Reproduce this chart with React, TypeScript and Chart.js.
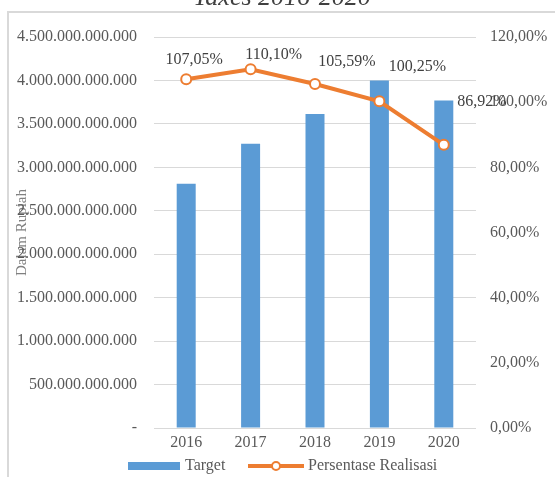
import React, { useEffect, useRef } from "react";
import { Chart, registerables } from "chart.js";

Chart.register(...registerables);

// ---- Data ----
const categories = ["2016", "2017", "2018", "2019", "2020"];
const targetValues = [2.81e12, 3.27e12, 3.615e12, 4.0e12, 3.768e12];
const realisasiPercent = [107.05, 110.1, 105.59, 100.25, 86.92];
const leftAxisMax = 4.5e12;
const leftAxisStep = 5e11;
const rightAxisMax = 120;
const rightAxisStep = 20;
const chartTitle = "Taxes 2016-2020";
const yAxisTitle = "Dalam Rupiah";
const seriesNames = ["Target", "Persentase Realisasi"];

// ---- Styles ----
const SERIF = "'Liberation Serif', 'Times New Roman', serif";
const BLUE = "#5B9BD5";
const ORANGE = "#ED7D31";
const GRID = "#D9D9D9";
const TEXT = "#595959";
const labelOffsets: [number, number][] = [
  [8, -19],
  [23, -14],
  [32, -22],
  [38, -35],
  [38, -43],
];

function formatDots(v: number): string {
  if (v === 0) return "-";
  const s = Math.round(v).toString();
  return s.replace(/\B(?=(\d{3})+(?!\d))/g, ".");
}
function formatPct(v: number): string {
  return v.toFixed(2).replace(".", ",") + "%";
}

const decorPlugin = {
  id: "decor",
  beforeDraw(chart: any) {
    const ctx = chart.ctx as CanvasRenderingContext2D;
    ctx.save();
    // frame
    ctx.strokeStyle = GRID;
    ctx.lineWidth = 2;
    ctx.beginPath();
    ctx.moveTo(8, 480);
    ctx.lineTo(8, 12);
    ctx.lineTo(560, 12);
    ctx.stroke();
    // title (partially cut off at top)
    ctx.fillStyle = "#404040";
    ctx.font = `italic 26px ${SERIF}`;
    ctx.textAlign = "center";
    ctx.textBaseline = "alphabetic";
    ctx.fillText(chartTitle, 282, 5);
    ctx.restore();
  },
  afterDatasetsDraw(chart: any) {
    const ctx = chart.ctx as CanvasRenderingContext2D;
    const meta = chart.getDatasetMeta(1);
    ctx.save();
    ctx.fillStyle = "#404040";
    ctx.font = `16px ${SERIF}`;
    ctx.textAlign = "center";
    ctx.textBaseline = "middle";
    meta.data.forEach((el: any, i: number) => {
      const [dx, dy] = labelOffsets[i] || [0, -18];
      ctx.fillText(formatPct(realisasiPercent[i]), el.x + dx, el.y + dy);
    });
    ctx.restore();
  },
  afterDraw(chart: any) {
    const ctx = chart.ctx as CanvasRenderingContext2D;
    ctx.save();
    const cy = 466;
    // Target swatch
    ctx.fillStyle = BLUE;
    ctx.fillRect(128, cy - 4, 52, 8);
    ctx.fillStyle = TEXT;
    ctx.font = `16px ${SERIF}`;
    ctx.textAlign = "left";
    ctx.textBaseline = "middle";
    ctx.fillText(seriesNames[0], 185, cy);
    // Line swatch
    ctx.strokeStyle = ORANGE;
    ctx.lineWidth = 4;
    ctx.beginPath();
    ctx.moveTo(248, cy);
    ctx.lineTo(304, cy);
    ctx.stroke();
    ctx.beginPath();
    ctx.arc(276, cy, 4, 0, Math.PI * 2);
    ctx.fillStyle = "#ffffff";
    ctx.fill();
    ctx.lineWidth = 2;
    ctx.stroke();
    ctx.fillStyle = TEXT;
    ctx.fillText(seriesNames[1], 308, cy);
    ctx.restore();
  },
};

export default function App() {
  const canvasRef = useRef<HTMLCanvasElement | null>(null);

  useEffect(() => {
    if (!canvasRef.current) return;
    const chart = new Chart(canvasRef.current, {
      type: "bar",
      data: {
        labels: categories,
        datasets: [
          {
            type: "bar",
            label: seriesNames[0],
            data: targetValues,
            backgroundColor: BLUE,
            borderWidth: 0,
            yAxisID: "y",
            order: 1,
            barPercentage: 0.295,
            categoryPercentage: 1,
          },
          {
            type: "line",
            label: seriesNames[1],
            data: realisasiPercent,
            borderColor: ORANGE,
            borderWidth: 4,
            pointRadius: 5,
            pointBorderWidth: 2,
            pointBackgroundColor: "#ffffff",
            pointBorderColor: ORANGE,
            yAxisID: "y1",
            order: 0,
            tension: 0,
          },
        ],
      },
      options: {
        responsive: false,
        animation: false,
        layout: { padding: { top: 37, left: 0, right: 0, bottom: 0 } },
        plugins: {
          legend: { display: false },
          tooltip: { enabled: false },
          title: { display: false },
        },
        scales: {
          x: {
            grid: { display: false, drawTicks: false },
            border: { display: false },
            ticks: {
              color: TEXT,
              font: { family: SERIF, size: 16 },
              padding: 5,
              maxRotation: 0,
            },
            afterFit: (s: any) => {
              s.height = 49;
            },
          },
          y: {
            position: "left",
            min: 0,
            max: leftAxisMax,
            grid: { color: GRID, lineWidth: 1, drawTicks: false },
            border: { display: false },
            ticks: {
              stepSize: leftAxisStep,
              color: TEXT,
              font: { family: SERIF, size: 16 },
              padding: 17,
              callback: (v: any) => formatDots(Number(v)),
            },
            title: {
              display: true,
              text: yAxisTitle,
              color: "#808080",
              font: { family: SERIF, size: 15 },
              padding: { top: 13.5, bottom: 0 },
            },
            afterFit: (s: any) => {
              s.width = 154;
            },
          },
          y1: {
            position: "right",
            min: 0,
            max: rightAxisMax,
            grid: { display: false, drawTicks: false },
            border: { display: false },
            ticks: {
              stepSize: rightAxisStep,
              color: TEXT,
              font: { family: SERIF, size: 16 },
              padding: 14,
              callback: (v: any) => formatPct(Number(v)),
            },
            afterFit: (s: any) => {
              s.width = 79;
            },
          },
        },
      },
      plugins: [decorPlugin],
    });
    return () => chart.destroy();
  }, []);

  return (
    <div style={{ position: "absolute", left: 0, top: 0, width: 555, height: 477, background: "#fff" }}>
      <canvas ref={canvasRef} width={555} height={477} style={{ display: "block" }} />
    </div>
  );
}
